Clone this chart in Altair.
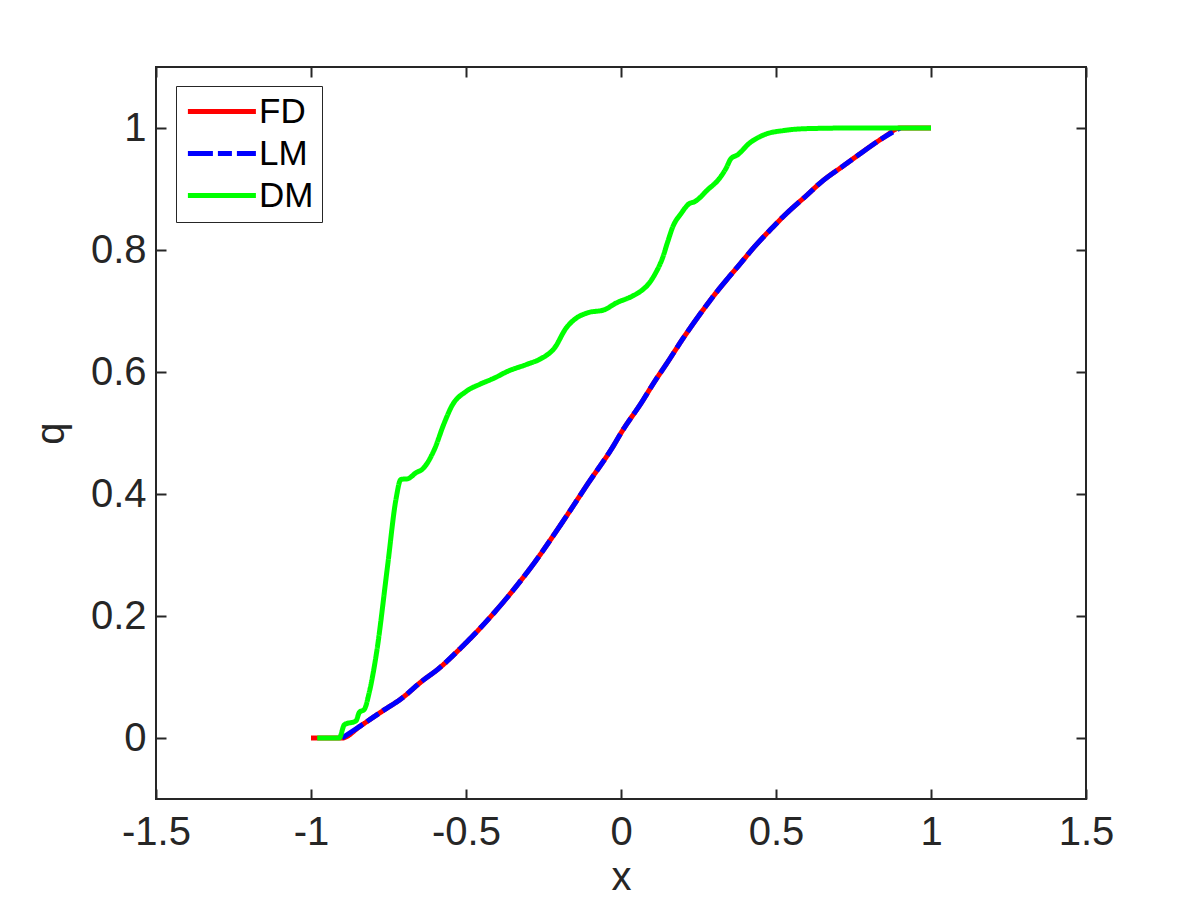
import altair as alt
import pandas as pd

# FD curve (finite differences)
fd_x = [-1.0, -0.9, -0.84, -0.764, -0.71, -0.64, -0.59, -0.52, -0.473, -0.376, -0.28,
        -0.194, -0.108, -0.022, 0.0, 0.065, 0.113, 0.145, 0.2, 0.258, 0.29, 0.387,
        0.43, 0.489, 0.532, 0.602, 0.645, 0.723, 0.769, 0.849, 0.9, 1.0]
fd_q = [0.0, 0.0, 0.02, 0.046, 0.064, 0.094, 0.113, 0.146, 0.170, 0.225, 0.287,
        0.35, 0.416, 0.481, 0.5, 0.549, 0.588, 0.612, 0.655, 0.697, 0.719, 0.779,
        0.805, 0.837, 0.859, 0.891, 0.911, 0.94, 0.957, 0.985, 1.0, 1.0]

# LM curve
lm_x = [-0.9, -0.84, -0.764, -0.71, -0.64, -0.59, -0.52, -0.473, -0.376, -0.28,
        -0.194, -0.108, -0.022, 0.0, 0.065, 0.113, 0.145, 0.2, 0.258, 0.29, 0.387,
        0.43, 0.489, 0.532, 0.602, 0.645, 0.723, 0.769, 0.849, 0.9]
lm_q = [0.0, 0.02, 0.046, 0.064, 0.094, 0.113, 0.146, 0.170, 0.225, 0.287,
        0.35, 0.416, 0.481, 0.5, 0.549, 0.588, 0.612, 0.655, 0.697, 0.719, 0.779,
        0.805, 0.837, 0.859, 0.891, 0.911, 0.94, 0.957, 0.985, 1.0]

# DM curve
dm_x = [-0.98, -0.909, -0.892, -0.855, -0.844, -0.828, -0.812, -0.79, -0.753, -0.726,
        -0.71, -0.688, -0.661, -0.64, -0.602, -0.572, -0.545, -0.5, -0.455, -0.409,
        -0.366, -0.301, -0.258, -0.215, -0.177, -0.145, -0.108, -0.054, -0.016, 0.035,
        0.065, 0.09, 0.108, 0.134, 0.151, 0.167, 0.194, 0.22, 0.237, 0.28, 0.317,
        0.339, 0.355, 0.376, 0.414, 0.462, 0.527, 0.602, 0.753, 1.0]
dm_q = [0.0, 0.0, 0.022, 0.028, 0.042, 0.047, 0.075, 0.135, 0.282, 0.391,
        0.424, 0.425, 0.435, 0.441, 0.473, 0.514, 0.545, 0.568, 0.580, 0.590,
        0.601, 0.613, 0.622, 0.639, 0.672, 0.688, 0.697, 0.702, 0.713, 0.724,
        0.733, 0.745, 0.759, 0.787, 0.814, 0.838, 0.860, 0.876, 0.879, 0.899, 0.917,
        0.934, 0.950, 0.956, 0.975, 0.989, 0.996, 0.999, 1.0, 1.0]

series_names = ["FD", "LM", "DM"]
series_colors = ["#ff0000", "#0000ff", "#00ff00"]
series_dash = [[1, 0], [25, 5, 14, 5], [1, 0]]

x_ticks = [-1.5, -1.0, -0.5, 0.0, 0.5, 1.0, 1.5]
y_ticks = [0.0, 0.2, 0.4, 0.6, 0.8, 1.0]

df = pd.concat([
    pd.DataFrame({"x": fd_x, "q": fd_q, "s": "FD"}),
    pd.DataFrame({"x": lm_x, "q": lm_q, "s": "LM"}),
    pd.DataFrame({"x": dm_x, "q": dm_q, "s": "DM"}),
], ignore_index=True)

FONT = "Liberation Sans"
AX = "#262626"

xs = alt.Scale(domain=[-1.5, 1.5], nice=False, zero=False)
ys = alt.Scale(domain=[-0.1, 1.1], nice=False, zero=False)

label_expr = "(datum.value < 0 ? '-' : '') + format(abs(datum.value), '~g')"

x_axis = alt.Axis(values=x_ticks, offset=-10, tickSize=10, tickWidth=2, tickColor=AX,
                  domain=False, grid=False, labelFont=FONT, labelFontSize=40,
                  labelColor=AX, labelPadding=13, labelFlush=False, labelOverlap=False,
                  labelExpr=label_expr, title="x", titleFont=FONT, titleFontSize=40,
                  titleFontWeight="normal", titleColor=AX, titleBaseline="alphabetic",
                  titleY=100)
y_axis = alt.Axis(values=y_ticks, offset=-10, tickSize=10, tickWidth=2, tickColor=AX,
                  domain=False, grid=False, labelFont=FONT, labelFontSize=40,
                  labelColor=AX, labelPadding=10, labelOverlap=False,
                  labelExpr=label_expr, title="q", titleFont=FONT, titleFontSize=40,
                  titleFontWeight="normal", titleColor=AX, titleBaseline="alphabetic",
                  titleAngle=-90, titleX=-103)

legend = alt.Legend(title=None, orient="none", legendX=20, legendY=19,
                    symbolType="M-2,0H8", symbolSize=185, symbolStrokeWidth=5,
                    labelFont=FONT, labelFontSize=35, labelColor="black",
                    strokeColor=AX, fillColor="white", padding=8, rowPadding=6,
                    labelOffset=40)

color = alt.Color("s:N", scale=alt.Scale(domain=series_names, range=series_colors),
                  legend=legend)
dash = alt.StrokeDash("s:N", scale=alt.Scale(domain=series_names, range=series_dash),
                      legend=legend)

def layer(name, with_axes):
    return alt.Chart(df).transform_filter(alt.datum.s == name).mark_line(
        strokeWidth=5, strokeCap="butt", strokeJoin="round", clip=True,
        interpolate="monotone"
    ).encode(
        x=alt.X("x:Q", scale=xs, axis=x_axis if with_axes else None),
        y=alt.Y("q:Q", scale=ys, axis=y_axis if with_axes else None),
        color=color,
        strokeDash=dash,
    )

frame = alt.Chart(df).mark_point(opacity=0).encode(
    x=alt.X("x:Q", scale=xs, axis=alt.Axis(orient="top", values=x_ticks, offset=-10,
                                           tickSize=10, tickWidth=2, tickColor=AX,
                                           domain=False, grid=False, labels=False,
                                           title=None)),
    y=alt.Y("q:Q", scale=ys, axis=alt.Axis(orient="right", values=y_ticks, offset=-10,
                                           tickSize=10, tickWidth=2, tickColor=AX,
                                           domain=False, grid=False, labels=False,
                                           title=None)),
)

chart = alt.layer(
    layer("FD", True), layer("LM", False), layer("DM", False), frame
).resolve_axis(x="independent", y="independent").properties(
    width=930, height=732,
    autosize=alt.AutoSizeParams(type="none"),
    padding={"left": 148, "top": 59, "right": 100, "bottom": 101},
    background="white",
).configure_view(stroke=AX, strokeWidth=2)

chart.save("out.html", embed_options={"renderer": "svg", "actions": False})
